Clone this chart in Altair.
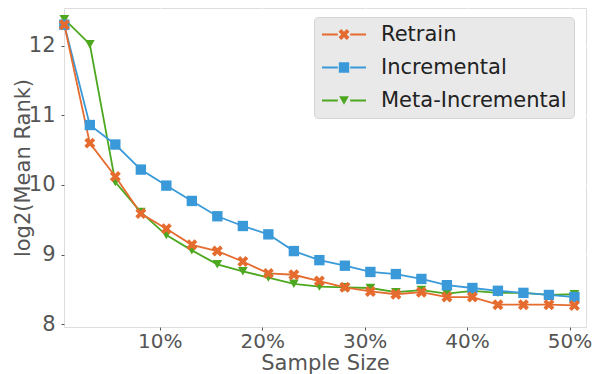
import altair as alt
import pandas as pd

# ---- data ----
sample_size = [0.0068, 0.0317, 0.0566, 0.0815, 0.1064, 0.1313, 0.1562, 0.1811,
               0.2060, 0.2309, 0.2558, 0.2807, 0.3056, 0.3305, 0.3554, 0.3803,
               0.4052, 0.4301, 0.4550, 0.4799, 0.5048]
retrain = [12.30, 10.60, 10.12, 9.59, 9.37, 9.14, 9.05, 8.90, 8.73, 8.71, 8.62,
           8.53, 8.47, 8.43, 8.46, 8.39, 8.39, 8.28, 8.28, 8.28, 8.27]
incremental = [12.30, 10.86, 10.58, 10.22, 9.99, 9.77, 9.55, 9.41, 9.29, 9.05, 8.92,
               8.84, 8.75, 8.72, 8.65, 8.56, 8.52, 8.48, 8.45, 8.42, 8.39]
meta_incremental = [12.38, 12.02, 10.04, 9.61, 9.28, 9.06, 8.86, 8.76, 8.67, 8.58, 8.54,
                    8.53, 8.52, 8.46, 8.49, 8.44, 8.48, 8.45, 8.45, 8.42, 8.43]

series_names = ["Retrain", "Incremental", "Meta-Incremental"]
series_colors = ["#E56B2F", "#3A9AD9", "#4DA820"]
x_ticks = [0.1, 0.2, 0.3, 0.4, 0.5]
y_ticks = [8, 9, 10, 11, 12]

X_PATH = "M-1,-0.5L-0.5,-1L0,-0.5L0.5,-1L1,-0.5L0.5,0L1,0.5L0.5,1L0,0.5L-0.5,1L-1,0.5L-0.5,0Z"
series_shapes = [X_PATH, "square", "triangle-down"]
series_sizes = [120, 95, 200]
LINE_GAP_PATH = "M-1,0L-0.28,0M0.28,0L1,0"

# line layer uses its own keys so its legend stays separate (labels trimmed back)
line_names = [n + " " for n in series_names]

rows = []
for name, vals in [("Meta-Incremental", meta_incremental),
                   ("Incremental", incremental),
                   ("Retrain", retrain)]:
    for x, y in zip(sample_size, vals):
        rows.append({"series": name, "line_series": name + " ", "x": x, "y": y})
df = pd.DataFrame(rows)

FONT = "DejaVu Sans"
GRAY = "#555555"
FS = 21

xscale = alt.Scale(domain=[0.0065, 0.5161], nice=False, zero=False)
yscale = alt.Scale(domain=[7.96, 12.54], nice=False, zero=False)

xenc = alt.X("x:Q", scale=xscale, axis=alt.Axis(
    values=x_ticks, format=".0%", title="Sample Size",
    labelFontSize=20, labelColor=GRAY, labelFont=FONT, labelPadding=1,
    tickSize=3, tickColor=GRAY, domain=False,
    grid=True, gridColor="white", gridWidth=1.8,
    titleFontSize=FS, titleColor=GRAY, titleFont=FONT, titleFontWeight="normal",
    titleY=42, titleBaseline="alphabetic"))
yenc = alt.Y("y:Q", scale=yscale, axis=alt.Axis(
    values=y_ticks, title="log2(Mean Rank)",
    labelFontSize=FS, labelColor=GRAY, labelFont=FONT, labelPadding=6,
    tickSize=3, tickColor=GRAY, domain=False,
    grid=True, gridColor="white", gridWidth=1.8,
    titleFontSize=FS, titleColor=GRAY, titleFont=FONT, titleFontWeight="normal",
    titleX=-35, titleY=159.5, titleBaseline="alphabetic", titleAngle=270))

line_legend = alt.Legend(
    orient="none", legendX=250, legendY=9, direction="vertical", title=None,
    symbolType=LINE_GAP_PATH, symbolSize=1936, symbolStrokeWidth=1.8,
    symbolFillColor="transparent",
    labelFontSize=FS, labelColor="#222222", labelFont=FONT, labelOffset=14,
    labelExpr="trim(datum.label)",
    labelLimit=400, padding=7, rowPadding=11, clipHeight=21,
    fillColor="#E9E9E9", strokeColor="#D4D4D4", cornerRadius=4)

point_legend = alt.Legend(
    orient="none", legendX=250, legendY=9, direction="vertical", title=None,
    symbolStrokeWidth=0, symbolOffset=12.5,
    labelFontSize=FS, labelExpr="''", labelFont=FONT, labelOffset=0,
    padding=7, rowPadding=11, clipHeight=21)

lines = alt.Chart(df).mark_line(strokeWidth=1.8).encode(
    x=xenc, y=yenc,
    stroke=alt.Stroke("line_series:N", scale=alt.Scale(domain=line_names, range=series_colors),
                      legend=line_legend),
    order=alt.Order("x:Q"),
)

points = alt.Chart(df).mark_point(filled=True, opacity=1, strokeWidth=0).encode(
    x=xenc, y=yenc,
    fill=alt.Fill("series:N", scale=alt.Scale(domain=series_names, range=series_colors),
                  legend=point_legend),
    shape=alt.Shape("series:N", scale=alt.Scale(domain=series_names, range=series_shapes),
                    legend=point_legend),
    size=alt.Size("series:N", scale=alt.Scale(domain=series_names, range=series_sizes),
                  legend=point_legend),
)

chart = alt.layer(lines, points).properties(
    width=522, height=319,
    autosize=alt.AutoSizeParams(type="none"),
    padding={"left": 56, "top": 0, "right": 7, "bottom": 47},
).configure_view(fill="#E5E5E5", stroke=None).configure(font=FONT)

chart.save("out.html", embed_options={"renderer": "svg", "actions": False})
